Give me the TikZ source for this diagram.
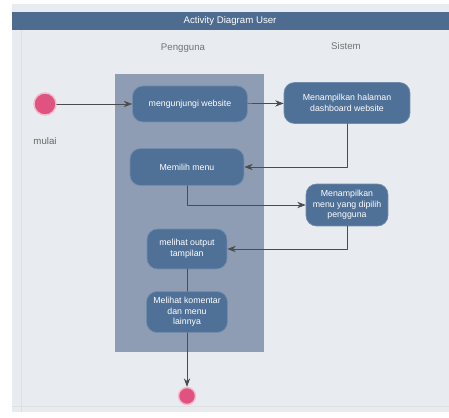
\documentclass[tikz,border=0pt]{standalone}
\usepackage{fontspec}
\setmainfont{Liberation Sans}
\usetikzlibrary{arrows.meta,positioning}
\definecolor{bgpanel}{HTML}{E8EBEF}
\definecolor{titlebar}{HTML}{4D6C8F}
\definecolor{lanefill}{HTML}{8E9DB4}
\definecolor{actfill}{HTML}{4F7097}
\definecolor{startpink}{HTML}{E0527F}

\begin{document}
\begin{tikzpicture}[
  x=0.02cm, y=-0.02cm,
  >=Stealth, line cap=round, line join=round,
  act/.style  ={fill=actfill, draw=actfill!80!white, rounded corners=6pt, text=white,
                align=center, font=\fontsize{5}{6}\selectfont, inner sep=2pt},
  flow/.style ={black!70, thin},
  dot/.style  ={circle, fill=startpink, draw=startpink!40!white, line width=0.8pt, inner sep=0pt},
  every node/.style={font=\fontsize{5.5}{6.5}\selectfont}
]

\useasboundingbox (0,0) rectangle (449,418);

% --- frame and swimlanes
\fill[white] (0,0) rectangle (449,418);
\fill[bgpanel] (12,4) rectangle (449,412);
\draw[black!12] (21,30) -- (21,412);
\draw[black!12] (12,406) -- (449,406);
\fill[titlebar] (12,12) rectangle (449,30);
\node[white] (title) at (230,21) {Activity Diagram User};

\node[black!55] (lanepeng) at (183,48) {Pengguna};
\node[black!55] (lanesys)  at (346,46) {Sistem};

\fill[lanefill] (115,74) rectangle (264,352);

% --- start / end
\node[dot, minimum size=0.44cm] (start) at (45,104) {};
\node[black!60, below=9pt of start] (startlbl) {mulai};
\node[dot, minimum size=0.34cm] (stop) at (187,396) {};

% --- activities
\node[act, minimum width=2.3cm, minimum height=0.72cm] (kunjungi) at (190,104)
  {mengunjungi website};
\node[act, minimum width=2.52cm, minimum height=0.82cm] (dashboard) at (347,103)
  {Menampilkan halaman\\dashboard website};
\node[act, minimum width=2.28cm, minimum height=0.74cm] (pilih) at (187,167)
  {Memilih menu};
\node[act, minimum width=1.64cm, minimum height=0.84cm] (tampilmenu) at (347,205)
  {Menampilkan\\menu yang dipilih\\pengguna};
\node[act, minimum width=1.6cm, minimum height=0.8cm] (output) at (187,249)
  {melihat output\\tampilan};
\node[act, minimum width=1.62cm, minimum height=0.82cm] (komentar) at (187,312)
  {Melihat komentar\\dan menu\\lainnya};

% --- flows
\draw[flow,->] (start) -- (kunjungi);
\draw[flow,->] (kunjungi) -- (dashboard);
\draw[flow,->] (dashboard.south) |- (pilih.east);
\draw[flow,->] (pilih.south) |- (tampilmenu.west);
\draw[flow,->] (tampilmenu.south) |- (output.east);
\draw[flow] (output) -- (komentar);
\draw[flow,->] (komentar) -- (stop);

\end{tikzpicture}
\end{document}
